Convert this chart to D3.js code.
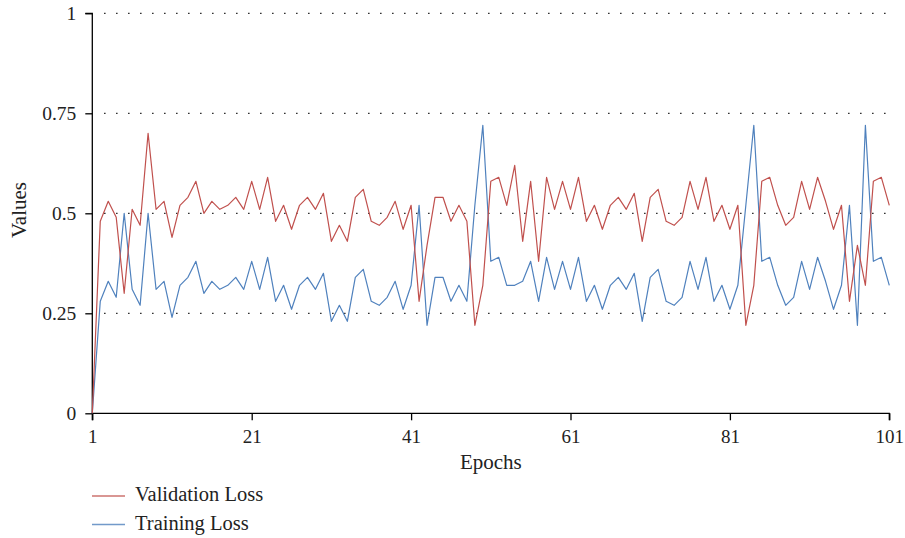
<!DOCTYPE html>
<html><head><meta charset="utf-8">
<script src="https://cdn.jsdelivr.net/npm/d3@7"></script>
<style>
body{margin:0;background:#fff;}
text{font-family:"Liberation Serif","DejaVu Serif",serif;fill:#222;}
</style></head>
<body><svg id="c" width="905" height="538"></svg>
<script>
const validationLoss = [
 0, 0.48, 0.53, 0.49, 0.30, 0.51, 0.47, 0.70, 0.51, 0.53,
 0.44, 0.52, 0.54, 0.58, 0.50, 0.53, 0.51, 0.52, 0.54, 0.51,
 0.58, 0.51, 0.59, 0.48, 0.52, 0.46, 0.52, 0.54, 0.51, 0.55,
 0.43, 0.47, 0.43, 0.54, 0.56, 0.48, 0.47, 0.49, 0.53, 0.46,
 0.52, 0.28, 0.42, 0.54, 0.54, 0.48, 0.52, 0.48, 0.22, 0.32,
 0.58, 0.59, 0.52, 0.62, 0.43, 0.58, 0.38, 0.59, 0.51, 0.58,
 0.51, 0.59, 0.48, 0.52, 0.46, 0.52, 0.54, 0.51, 0.55, 0.43,
 0.54, 0.56, 0.48, 0.47, 0.49, 0.58, 0.51, 0.59, 0.48, 0.52,
 0.46, 0.52, 0.22, 0.32, 0.58, 0.59, 0.52, 0.47, 0.49, 0.58,
 0.51, 0.59, 0.53, 0.46, 0.52, 0.28, 0.42, 0.32, 0.58, 0.59,
 0.52];
const trainingLoss = [
 0, 0.28, 0.33, 0.29, 0.50, 0.31, 0.27, 0.50, 0.31, 0.33,
 0.24, 0.32, 0.34, 0.38, 0.30, 0.33, 0.31, 0.32, 0.34, 0.31,
 0.38, 0.31, 0.39, 0.28, 0.32, 0.26, 0.32, 0.34, 0.31, 0.35,
 0.23, 0.27, 0.23, 0.34, 0.36, 0.28, 0.27, 0.29, 0.33, 0.26,
 0.32, 0.52, 0.22, 0.34, 0.34, 0.28, 0.32, 0.28, 0.52, 0.72,
 0.38, 0.39, 0.32, 0.32, 0.33, 0.38, 0.28, 0.39, 0.31, 0.38,
 0.31, 0.39, 0.28, 0.32, 0.26, 0.32, 0.34, 0.31, 0.35, 0.23,
 0.34, 0.36, 0.28, 0.27, 0.29, 0.38, 0.31, 0.39, 0.28, 0.32,
 0.26, 0.32, 0.52, 0.72, 0.38, 0.39, 0.32, 0.27, 0.29, 0.38,
 0.31, 0.39, 0.33, 0.26, 0.32, 0.52, 0.22, 0.72, 0.38, 0.39,
 0.32];
const xTicks = [1, 21, 41, 61, 81, 101];
const yTicks = [0, 0.25, 0.5, 0.75, 1];
const yTickLabels = ["0", "0.25", "0.5", "0.75", "1"];
const seriesNames = ["Validation Loss", "Training Loss"];
const seriesColors = ["#c0504d", "#4f81bd"];

const svg = d3.select("#c");
const x = d3.scaleLinear().domain([1, 101]).range([92.3, 889.3]);
const y = d3.scaleLinear().domain([0, 1]).range([413.3, 13.3]);

// gridlines
svg.append("g").selectAll("line").data(yTicks.filter(d => d > 0)).join("line")
  .attr("x1", 104).attr("x2", 890)
  .attr("y1", d => y(d)).attr("y2", d => y(d))
  .attr("stroke", "#333").attr("stroke-width", 1.3)
  .attr("stroke-dasharray", "1.6,10.4");

// axes
const yAxis = d3.axisLeft(y).tickValues(yTicks).tickFormat((d, i) => yTickLabels[i]).tickSize(7).tickPadding(9);
const gy = svg.append("g").attr("transform", "translate(92.3,0)").call(yAxis);
gy.select(".domain").attr("stroke", "#000").attr("stroke-width", 1.3).attr("d", `M-7,${y(1)}H0V${y(0)}`);
gy.selectAll(".tick line").attr("stroke", "#000").attr("stroke-width", 1.3);
gy.selectAll(".tick text").style("font-family", "Liberation Serif, serif").style("font-size", "19.5px").attr("fill", "#222");

const xAxis = d3.axisBottom(x).tickValues(xTicks).tickFormat(d3.format("d")).tickSize(7).tickPadding(9.5);
const gx = svg.append("g").attr("transform", `translate(0,${y(0)})`).call(xAxis);
gx.select(".domain").attr("stroke", "#000").attr("stroke-width", 1.3).attr("d", `M${x(1)},7V0H${x(101)}V7`);
gx.selectAll(".tick line").attr("stroke", "#000").attr("stroke-width", 1.3);
gx.selectAll(".tick text").style("font-family", "Liberation Serif, serif").style("font-size", "19px").attr("fill", "#222");

// lines
const line = d3.line().x((d, i) => x(i + 1)).y(d => y(d));
[trainingLoss, validationLoss].forEach((s, k) => {
  svg.append("path").datum(s).attr("d", line).attr("fill", "none")
    .attr("stroke", k === 0 ? seriesColors[1] : seriesColors[0])
    .attr("stroke-width", 1.2).attr("stroke-linejoin", "round");
});

// axis titles
svg.append("text").attr("x", (x(1) + x(101)) / 2).attr("y", 468.5).attr("text-anchor", "middle")
  .style("font-size", "21px").text("Epochs");
svg.append("text").attr("transform", "translate(26,210) rotate(-90)").attr("text-anchor", "middle")
  .style("font-size", "21px").text("Values");

// legend
const lg = svg.append("g");
seriesNames.forEach((n, i) => {
  const base = 501 + i * 28.5;
  lg.append("line").attr("x1", 92).attr("x2", 125).attr("y1", base - 5).attr("y2", base - 5)
    .attr("stroke", seriesColors[i]).attr("stroke-width", 1.3).attr("opacity", 0.8);
  lg.append("text").attr("x", 135).attr("y", base).style("font-size", "20.5px").text(n);
});
</script></body></html>
